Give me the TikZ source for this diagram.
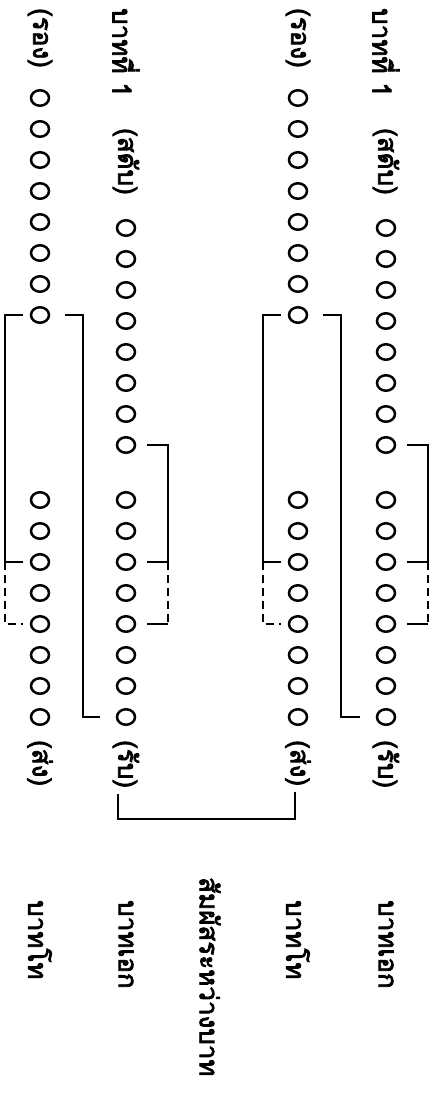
\documentclass[tikz,border=0pt]{standalone}
\usepackage{fontspec}
\newfontfamily\thaifont[Script=Thai, FakeBold=3]{Loma}
\usetikzlibrary{shapes.geometric}

\tikzset{
  syl/.style={draw, ellipse, line width=2.5pt, minimum width=18pt, minimum height=15.5pt, inner sep=0pt},
  lbl/.style={rotate=-90, anchor=west, inner sep=0pt, font=\thaifont\fontsize{26}{26}\selectfont},
  link/.style={line width=2pt},
  alt/.style={link, dash pattern=on 8pt off 5pt},
}

\begin{document}
\begin{tikzpicture}[x=1pt, y=-1pt]
\useasboundingbox (0,0) rectangle (434,1097);

% === syllables: stanza 1 on the right, stanza 2 on the left ===
\foreach \s/\xe/\xt in {1/386/298, 2/126/40} {
  \foreach \i in {1,...,8} {
    \node[syl] (to\s-\i) at (\xt, 98+31*\i-31) {};
    \node[syl] (ek\s-\i) at (\xe, 228+31*\i-31) {};
  }
  \foreach \i in {9,...,16} {
    \node[syl] (to\s-\i) at (\xt, 500+31*\i-279) {};
    \node[syl] (ek\s-\i) at (\xe, 500+31*\i-279) {};
  }

  % labels of the lines
  \node[lbl] (rong\s) at (\xt, 8) {(รอง)};
  \node[lbl] (bat\s) at (\xe, 8) {บาทที่ 1};
  \node[lbl] (sadap\s) at (\xe, 128) {(สดับ)};
  \node[lbl] (song\s) at (\xt, 740) {(ส่ง)};
  \node[lbl] (rap\s) at (\xe, 740) {(รับ)};
  \node[lbl] (nameto\s) at (\xt, 900) {บาทโท};
  \node[lbl] (nameek\s) at (\xe, 900) {บาทเอก};
}
\node[lbl] (samphat) at (210, 877) {สัมผัสระหว่างบาท};

% === rhymes inside each stanza ===
\foreach \s in {1,2} {
  \draw[link] ([xshift=-7]to\s-8.west) -- ++(-18,0) |- ([xshift=-7]to\s-11.west);
  \draw[alt] ([xshift=-25]to\s-11.west) |- ([xshift=-7]to\s-13.west);
  \draw[link] ([xshift=15]to\s-8.east) -- ++(18,0) |- ([xshift=-16]ek\s-16.west);
  \draw[link] ([xshift=11]ek\s-8.east) -- ++(21,0) |- ([xshift=11]ek\s-11.east);
  \draw[alt] ([xshift=32]ek\s-11.east) -- ([xshift=32]ek\s-13.east);
  \draw[link] ([xshift=32]ek\s-13.east) -- ([xshift=11]ek\s-13.east);
}

% === rhyme between stanzas ===
\draw[link] ([xshift=-8, yshift=-6]rap2.east) -- ++(0,25) -| ([xshift=-3, yshift=-6]song1.east);

\end{tikzpicture}
\end{document}
